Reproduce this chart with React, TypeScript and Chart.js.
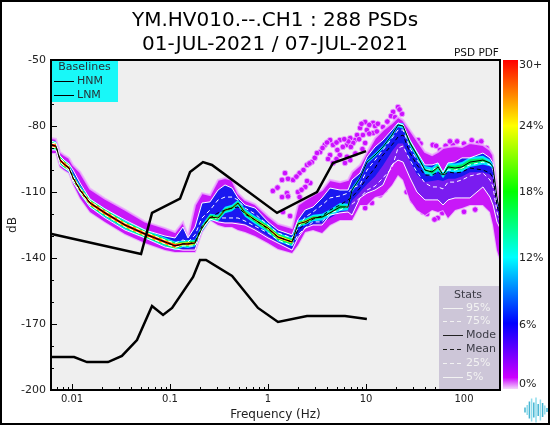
import React, { useEffect, useRef } from "react";
import { Chart, registerables } from "chart.js";

Chart.register(...registerables);

const TITLE_LINES = ["YM.HV010.--.CH1 : 288 PSDs", "01-JUL-2021 / 07-JUL-2021"];
const X_TICKS = [0.01, 0.1, 1, 10, 100];
const X_MINOR = [0.007, 0.008, 0.009, 0.02, 0.03, 0.04, 0.05, 0.06, 0.07, 0.08, 0.09, 0.2, 0.3, 0.4, 0.5, 0.6, 0.7, 0.8, 0.9, 2, 3, 4, 5, 6, 7, 8, 9, 20, 30, 40, 50, 60, 70, 80, 90, 200];
const Y_TICKS = [-50, -80, -110, -140, -170, -200];
const Y_MINOR = [-60, -70, -90, -100, -120, -130, -150, -160, -180, -190];
const BAR_LABELS = ["0%", "6%", "12%", "18%", "24%", "30+"];

const freqs = [0.0061, 0.00686, 0.00754, 0.00829, 0.00932, 0.01024, 0.01207, 0.01526, 0.0217, 0.0347, 0.0556, 0.0889, 0.1125, 0.1357, 0.1526, 0.18, 0.212, 0.256, 0.309, 0.364, 0.429, 0.494, 0.583, 0.737, 1, 1.265, 1.758, 2.02, 2.39, 2.88, 3.56, 4.29, 5.43, 6.55, 7.2, 8.69, 10.24, 12.35, 14.9, 18.4, 21.2, 23.9, 28.1, 33.1, 40, 47.2, 54.3, 61.1, 68.7, 81, 95.4, 115, 156, 184, 198, 217, 233];

const mode = [-88.6, -89.1, -95.5, -97.3, -99.1, -103.6, -109.1, -115, -119.5, -125, -129.1, -132.7, -134.5, -133.6, -133.6, -133.2, -126.4, -121.4, -121.8, -118.2, -117.3, -115, -119.5, -122.7, -126.4, -130.5, -132.7, -124.5, -123.6, -121.8, -121.4, -119.5, -116.8, -116.8, -109.1, -103.6, -96.4, -93.2, -89.5, -84.1, -79.5, -80, -87.7, -93.2, -100, -100.9, -98.6, -102.3, -98.6, -99.1, -98.6, -96.4, -95.5, -96.8, -98.6, -112.3, -119.5];
const p95 = [-86.8, -87.7, -93.6, -95.5, -97.3, -100, -105.9, -113.2, -117.7, -122.7, -127.3, -130, -130.9, -125.9, -130.9, -125.9, -115, -114.5, -109.1, -106.8, -108.2, -112.7, -115.9, -117.3, -123.6, -127.3, -129.5, -122.7, -118.2, -116.8, -112.7, -108.2, -109.1, -109.1, -104.5, -101.4, -94.1, -89.5, -86.4, -81.8, -78.6, -79.5, -86.4, -91.8, -97.7, -97.7, -96.8, -100.9, -96.8, -96.4, -94.5, -94.5, -92.3, -94.5, -96.8, -110.5, -118.2];
const p75 = [-87.7, -88.2, -94.5, -96.4, -98.2, -102.7, -108.2, -114.1, -118.6, -124.1, -128.2, -131.8, -133.2, -131.8, -132.7, -129.5, -121.8, -118.2, -113.6, -112.3, -112.3, -113.6, -117.3, -120, -125, -128.6, -130.9, -126.4, -121.4, -119.1, -115.9, -112.7, -111.8, -110.5, -108.2, -106.8, -100, -95.5, -90.9, -85.5, -81.8, -81.8, -90, -95.5, -100, -100, -98.6, -102.3, -100, -100, -99.1, -97.7, -96.4, -97.7, -100, -113.6, -119.5];
const mean = [-88.6, -89.1, -95.5, -97.3, -99.1, -103.6, -109.1, -115, -119.5, -125, -129.1, -132.7, -134.5, -133.6, -133.6, -132.7, -125.5, -121.8, -119.5, -118.2, -117.3, -116.8, -120, -122.7, -126.8, -130.5, -132.7, -127.3, -124.5, -122.3, -120.9, -118.2, -115.9, -113.6, -112.3, -108.2, -103.6, -99.1, -93.2, -88.6, -85, -84.1, -92.3, -97.7, -102.3, -102.3, -100.9, -102.7, -100.9, -101.4, -100.9, -99.1, -100, -101.4, -103.6, -115.9, -121.8];
const p25 = [-89.5, -90, -96.4, -98.2, -100, -104.5, -110, -115.9, -120.5, -125.9, -130, -133.6, -135, -134.5, -134.5, -134.5, -126.4, -122.7, -121.8, -121.8, -121.8, -121.8, -123.2, -125.5, -128.6, -131.8, -134.5, -129.5, -126.4, -123.6, -123.6, -119.5, -118.2, -116.4, -115.5, -112.7, -109.1, -107.3, -103.6, -99.1, -90, -89.1, -95.5, -100.9, -105.9, -107.7, -107.7, -108.6, -105.5, -105.5, -104.5, -102.7, -101.4, -104.5, -107.7, -119.1, -123.6];
const p5 = [-90.9, -90.9, -97.7, -99.1, -100.5, -105.5, -110.5, -116.8, -121.8, -127.3, -130.9, -135, -135.9, -136.4, -136.4, -136.4, -127.3, -122.3, -123.6, -124.1, -124.1, -124.5, -125, -127.3, -130.9, -133.2, -136.4, -130.9, -126.4, -125, -125, -120.5, -119.5, -119.1, -120.5, -112.7, -110.5, -109.1, -106.8, -97.7, -95.5, -96.4, -103.6, -110, -113.6, -113.6, -113.6, -115.9, -113.6, -112.7, -112.7, -112.7, -107.7, -112.3, -115.9, -123.6, -126.4];

const purpleTop = [-85.5, -85.9, -91.8, -93.2, -94.5, -97.7, -100.9, -108.5, -113, -118, -123.5, -126.4, -128.2, -123.6, -130, -115.9, -110.5, -111.4, -104.5, -103.6, -104.5, -110.5, -113.6, -115.5, -120.9, -124.5, -126.4, -115.9, -113.6, -111.4, -109.1, -104.5, -105.5, -104.5, -100.9, -97.7, -91.8, -85.5, -81.8, -78.6, -75.9, -77.3, -81.8, -86.4, -91.8, -93.2, -91.8, -90, -89.5, -89.1, -89.5, -87.7, -88.6, -90.9, -93.2, -106.8, -113.6];
const purpleBottom = [-92.3, -92.3, -98.6, -100, -101.4, -106.4, -112.7, -119.1, -123.6, -129.1, -133.2, -136.4, -137.3, -137.3, -137.3, -137.3, -128.2, -122.7, -125, -125.9, -125.9, -127.3, -128.2, -130, -133.2, -135.9, -137.7, -134.1, -128.2, -127.3, -128.6, -125, -122.7, -122.7, -122.7, -115.9, -115.9, -112.3, -111.4, -106.8, -102.3, -104.5, -113.6, -118.2, -120.5, -118.2, -119.1, -118.2, -121.8, -118.2, -117.3, -115.9, -115.9, -119.1, -125, -136.4, -140.9];
const blueBottom = [-90.5, -90.5, -97.3, -98.6, -100, -105, -110, -116.4, -121.4, -126.8, -130.5, -134.5, -135.5, -135.9, -135.9, -135.5, -126.4, -121.8, -123.2, -123.6, -123.6, -123.6, -124.5, -126.4, -130, -132.7, -135.9, -129.5, -125.9, -124.5, -124.1, -121.8, -119.1, -118.2, -114, -110, -106.5, -103, -98, -91.5, -88, -88, -96, -102, -105.5, -105, -104.5, -105, -104, -104, -103, -101, -101, -102, -104, -116.5, -122];
const cyanWidth = [2, 2, 2, 2, 2, 2, 2, 2, 2, 2, 2, 2, 2, 1.5, 1.8, 1.5, 1.5, 1.5, 1.5, 1.5, 1.5, 1.5, 1.8, 1.8, 2, 2, 2, 1.5, 1.5, 1.5, 1.5, 1.5, 1.8, 1.5, 1, 0.8, 0.8, 0.8, 0.8, 1, 1, 1.2, 1.5, 1.5, 1.8, 2, 2, 1.5, 2, 2, 2.2, 2.2, 2, 1.5, 1, 0.8, 0.5];
const greenWidth = [1.5, 1.5, 1.5, 1.5, 1.5, 1.5, 1.5, 1.5, 1.5, 1.5, 1.5, 1.5, 1.5, 1, 1.3, 1, 1, 1, 1, 0.7, 0.7, 0.7, 1, 1, 1.3, 1.5, 1.3, 0.8, 1, 0.8, 0.5, 0.5, 0.8, 0.5, 0, 0, 0, 0, 0, 0, 0, 0.3, 0.8, 0.6, 0.5, 0.8, 1, 0.2, 0.8, 1, 1.2, 1.3, 0.8, 0.3, 0, 0, 0];
const yellowWidth = [1, 1, 1, 1, 1, 1, 1, 1, 1, 1, 1, 1, 1, 0.6, 0.8, 0.4, 0.3, 0.4, 0.3, 0.2, 0.2, 0.2, 0.4, 0.4, 0.6, 0.8, 0.6, 0.4, 0.5, 0.3, 0, 0, 0, 0, 0, 0, 0, 0, 0, 0, 0, 0, 0, 0, 0, 0, 0, 0, 0, 0, 0, 0, 0, 0, 0, 0, 0];
const redWidth = [0.7, 0.7, 0.7, 0.7, 0.7, 0.7, 0.7, 0.7, 0.7, 0.7, 0.7, 0.7, 0.7, 0.3, 0.5, 0.2, 0, 0, 0, 0, 0, 0, 0, 0, 0.2, 0.4, 0.2, 0, 0.2, 0, 0, 0, 0, 0, 0, 0, 0, 0, 0, 0, 0, 0, 0, 0, 0, 0, 0, 0, 0, 0, 0, 0, 0, 0, 0, 0, 0];

const blobFreq = [21.2, 23.3, 18.9, 18, 9.8, 11.8, 12.35, 8.7, 10.2, 9.3, 14.9, 11.8, 8.1, 7.7, 9.8, 6.9, 7.4, 4.3, 5.4, 6.4, 4.6, 5.8, 5.1, 4.3, 5.4, 6.9, 6.1, 4.6, 3.8, 3.4, 3.16, 2.8, 2.5, 2.1, 1.49, 1.8, 1.39, 2.7, 2.4, 1.12, 2.02, 1.56, 2.1, 1.39, 1.42, 1.68, 54, 38, 45, 13.9, 15.6, 11.5, 9.8, 48, 77, 139, 34, 57, 22, 19.8, 16.5, 13.2, 10.8, 9, 12.9, 10.8, 8.5, 6.6, 7, 6, 5, 4, 3.6, 3, 2.65, 2.3, 1.95, 1.6, 1.25, 2.5, 2.2, 1.6, 5, 6.4, 4.1, 7.8, 9.2, 36, 52, 65, 72, 85, 100, 120, 150, 170, 26, 30, 34, 42, 60, 100, 130, 50];
const blobDb = [-71.4, -74.5, -73.6, -75.5, -78.2, -78.6, -80, -80.9, -81.8, -84.1, -80.5, -83.2, -84.1, -86.4, -87.7, -85.5, -87.7, -86.4, -86.4, -88.6, -88.6, -89.5, -90.9, -93.2, -93.2, -95.5, -96.8, -96.8, -88.6, -91.8, -92.3, -96.4, -97.7, -101.4, -101.4, -104.5, -104.5, -105.9, -107.7, -109.5, -110, -110.5, -112.3, -112.3, -119.1, -120.9, -121.8, -119.1, -116.8, -111.4, -109.1, -115, -117.3, -88.6, -88.6, -87.7, -86.4, -90.9, -72.5, -76, -78, -79, -79.5, -79, -82.5, -83.5, -86, -87, -89.5, -86, -87.5, -87.5, -90, -94.5, -97, -100, -103, -104, -108, -105, -109, -112, -95, -94, -95, -92.5, -90.5, -88, -89, -89, -87, -87, -88, -86.5, -87, -90, -110, -114, -116, -120, -119.5, -119, -118, -122.5];

const hnmFreq = [0.0062, 0.0506, 0.0655, 0.1265, 0.16, 0.217, 0.268, 1.236, 3.16, 4.6, 10];
const hnmDb = [-129.1, -138.2, -119.5, -113, -100.9, -96.4, -97.7, -119.5, -110, -96.8, -91.4];
const lnmFreq = [0.0061, 0.0105, 0.0142, 0.0233, 0.0323, 0.046, 0.0655, 0.0849, 0.105, 0.172, 0.202, 0.233, 0.43, 0.79, 1.265, 2.5, 6.1, 10.2];
const lnmDb = [-185, -185, -187.3, -187.3, -184.5, -177.3, -161.8, -165.9, -162.7, -148.6, -140.9, -140.9, -148.2, -162.7, -169.1, -166.4, -166.4, -167.7];

const logoBars = [5, 10, 17, 23, 15, 25, 12, 21, 14, 9, 4];

const FONT = '"DejaVu Sans"';
const pts = (ys: number[]) => ys.map((y, i) => ({ x: freqs[i], y }));
const lineOf = (label: string, ys: number[], color: string, width: number, dash: number[], order: number) => ({
  label, data: pts(ys), borderColor: color, borderWidth: width, borderDash: dash, pointRadius: 0, tension: 0, fill: false, order,
});
const band = (label: string, hi: number[], lo: number[], color: string, order: number, edge = "transparent", edgeW = 0) => [
  { label: label + " hi", data: pts(hi), borderColor: edge, borderWidth: edgeW, backgroundColor: color, fill: "+1", pointRadius: 0, tension: 0, order },
  { label: label + " lo", data: pts(lo), borderColor: edge, borderWidth: edgeW, fill: false, pointRadius: 0, tension: 0, order },
];
const around = (w: number[], sign: number) => mode.map((m, i) => m + sign * w[i]);

const chrome = {
  id: "chrome",
  beforeDraw(c: any) {
    const { ctx, chartArea: a } = c;
    ctx.save();
    ctx.fillStyle = "#fff";
    ctx.fillRect(0, 0, c.width, c.height);
    ctx.fillStyle = "#efefef";
    ctx.fillRect(a.left, a.top, a.right - a.left, a.bottom - a.top);
    ctx.restore();
  },
  afterDraw(c: any) {
    const { ctx, chartArea: a, scales } = c;
    ctx.save();
    ctx.strokeStyle = "#000";
    ctx.lineWidth = 1;
    const tickX = (v: number, len: number) => {
      const p = Math.round(scales.x.getPixelForValue(v)) + 0.5;
      ctx.beginPath(); ctx.moveTo(p, a.bottom); ctx.lineTo(p, a.bottom - len); ctx.stroke();
    };
    const tickY = (v: number, len: number) => {
      const p = Math.round(scales.y.getPixelForValue(v)) + 0.5;
      ctx.beginPath(); ctx.moveTo(a.left, p); ctx.lineTo(a.left + len, p); ctx.stroke();
    };
    X_TICKS.forEach((v) => tickX(v, 6));
    X_MINOR.forEach((v) => tickX(v, 3));
    Y_TICKS.forEach((v) => tickY(v, 6));
    Y_MINOR.forEach((v) => tickY(v, 3));

    ctx.fillStyle = "#18f8f8";
    ctx.fillRect(a.left, a.top, 67, 42);
    ctx.font = `11px ${FONT}`;
    ctx.textBaseline = "middle";
    ctx.fillStyle = "#263238";
    ctx.textAlign = "center";
    ctx.fillText("Baselines", a.left + 33.5, 67);
    ctx.textAlign = "left";
    [["HNM", 81], ["LNM", 95]].forEach(([t, y]: any) => {
      ctx.fillStyle = "#263238";
      ctx.fillText(t, 77, y);
      ctx.strokeStyle = "#000";
      ctx.beginPath(); ctx.moveTo(54, y + 0.5); ctx.lineTo(74, y + 0.5); ctx.stroke();
    });

    ctx.fillStyle = "#cdc6d8";
    ctx.fillRect(439, 286, a.right - 439, a.bottom - 286);
    ctx.fillStyle = "#3c3c46";
    ctx.textAlign = "center";
    ctx.fillText("Stats", 468, 295);
    ctx.textAlign = "left";
    const rows: [string, number, string, number[]][] = [
      ["95%", 308, "#f2f2f2", []], ["75%", 321, "#f2f2f2", [4, 3]], ["Mode", 335, "#222", []],
      ["Mean", 349, "#222", [4, 3]], ["25%", 363, "#f2f2f2", [4, 3]], ["5%", 377, "#f2f2f2", []],
    ];
    rows.forEach(([t, y, col, dash]) => {
      ctx.fillStyle = col === "#222" ? "#3c3c46" : col;
      ctx.fillText(t, 466, y);
      ctx.strokeStyle = col;
      ctx.setLineDash(dash);
      ctx.beginPath(); ctx.moveTo(443, y + 0.5); ctx.lineTo(463, y + 0.5); ctx.stroke();
      ctx.setLineDash([]);
    });

    ctx.strokeStyle = "#000";
    ctx.lineWidth = 2;
    ctx.strokeRect(a.left, a.top, a.right - a.left, a.bottom - a.top);

    const g = ctx.createLinearGradient(0, 60, 0, 389);
    g.addColorStop(0, "#ff0000");
    g.addColorStop(0.2, "#ffff00");
    g.addColorStop(0.4, "#00ff00");
    g.addColorStop(0.6, "#00ffff");
    g.addColorStop(0.8, "#0000ff");
    g.addColorStop(0.965, "#cc00ff");
    g.addColorStop(1, "#f4d8fb");
    ctx.fillStyle = g;
    ctx.fillRect(503, 60, 15, 329);
    ctx.fillStyle = "#222";
    ctx.font = `11px ${FONT}`;
    BAR_LABELS.forEach((t, i) => {
      const y = [384, 325, 258, 192, 126, 65][i];
      ctx.fillText(t, 519, y);
    });
    ctx.font = `10.5px ${FONT}`;
    ctx.fillStyle = "#111";
    ctx.fillText("PSD PDF", 454, 53);

    ctx.lineWidth = 1.5;
    logoBars.forEach((h, i) => {
      const x = 525 + i * 2.2;
      ctx.strokeStyle = i % 2 ? "#8fdcec" : "#45b4d2";
      ctx.beginPath(); ctx.moveTo(x, 410 - h / 2); ctx.lineTo(x, 410 + h / 2); ctx.stroke();
    });

    ctx.strokeStyle = "#000";
    ctx.lineWidth = 2;
    ctx.strokeRect(1, 1, c.width - 2, c.height - 2);
    ctx.restore();
  },
};

export default function App() {
  const ref = useRef<HTMLCanvasElement>(null);
  useEffect(() => {
    document.body.style.margin = "0";
    const datasets: any[] = [
      ...band("PDF low", purpleTop, purpleBottom, "#c818f8", 90, "rgba(236,170,255,0.85)", 2),
      ...band("PDF mid", p95, p5, "#7a1cf0", 80),
      ...band("PDF blue", p95, blueBottom, "#1a18f0", 70),
      ...band("PDF cyan", around(cyanWidth, 1), around(cyanWidth, -1), "#00e8ff", 60),
      ...band("PDF green", around(greenWidth, 1), around(greenWidth, -1), "#00f060", 50),
      ...band("PDF yellow", around(yellowWidth, 1), around(yellowWidth, -1), "#f8f800", 40),
      ...band("PDF red", around(redWidth, 1), around(redWidth, -1), "#ff2000", 30),
      {
        type: "scatter", label: "PDF speckle", data: blobFreq.map((x, i) => ({ x, y: blobDb[i] })),
        backgroundColor: "#cc10ff", borderColor: "rgba(236,170,255,0.85)", borderWidth: 1, pointRadius: 2.8, showLine: false, order: 95,
      },
      lineOf("95%", p95, "#ffffff", 1, [], 20),
      lineOf("75%", p75, "#ffffff", 1, [4, 3], 19),
      lineOf("25%", p25, "#ffffff", 1, [4, 3], 18),
      lineOf("5%", p5, "#ffffff", 1, [], 17),
      lineOf("Mean", mean, "#000000", 1, [4, 3], 16),
      lineOf("Mode", mode, "#000000", 1, [], 15),
      { label: "HNM", data: hnmFreq.map((x, i) => ({ x, y: hnmDb[i] })), borderColor: "#000", borderWidth: 2.5, pointRadius: 0, tension: 0, fill: false, order: 5 },
      { label: "LNM", data: lnmFreq.map((x, i) => ({ x, y: lnmDb[i] })), borderColor: "#000", borderWidth: 2.5, pointRadius: 0, tension: 0, fill: false, order: 5 },
    ];
    const chart = new Chart(ref.current!, {
      type: "line",
      data: { datasets },
      plugins: [chrome],
      options: {
        animation: false,
        responsive: false,
        events: [],
        layout: { padding: 0 },
        plugins: {
          legend: { display: false },
          tooltip: { enabled: false },
          title: {
            display: true,
            text: TITLE_LINES,
            color: "#000",
            font: { family: FONT, size: 20, weight: "normal", lineHeight: 1.2 },
            padding: { top: 9, bottom: 3 },
          },
        },
        scales: {
          x: {
            type: "logarithmic",
            min: 0.0061,
            max: 233,
            grid: { display: false, drawTicks: false },
            border: { display: false },
            afterFit: (s: any) => { s.height = 35; },
            afterBuildTicks: (s: any) => { s.ticks = X_TICKS.map((value) => ({ value })); },
            ticks: { autoSkip: false, maxRotation: 0, padding: 3, color: "#222", font: { family: FONT, size: 10 }, callback: (v: any) => String(v) },
            title: { display: true, text: "Frequency (Hz)", color: "#222", font: { family: FONT, size: 12 }, padding: { top: 2, bottom: 3 } },
          },
          y: {
            type: "linear",
            min: -200,
            max: -50,
            grid: { display: false, drawTicks: false },
            border: { display: false },
            afterFit: (s: any) => { s.width = 51; },
            afterBuildTicks: (s: any) => { s.ticks = Y_TICKS.map((value) => ({ value })); },
            ticks: { padding: 5, color: "#222", font: { family: FONT, size: 11 }, callback: (v: any) => String(v) },
            title: { display: true, text: "dB", color: "#222", font: { family: FONT, size: 12 }, padding: { top: 6, bottom: 0 } },
          },
          rightGap: {
            type: "linear",
            position: "right",
            grid: { display: false, drawTicks: false },
            border: { display: false },
            ticks: { display: false },
            afterFit: (s: any) => { s.width = 50; },
          },
        },
      } as any,
    });
    return () => chart.destroy();
  }, []);
  return <canvas ref={ref} width={550} height={425} style={{ display: "block", position: "fixed", left: 0, top: 0 }} />;
}
